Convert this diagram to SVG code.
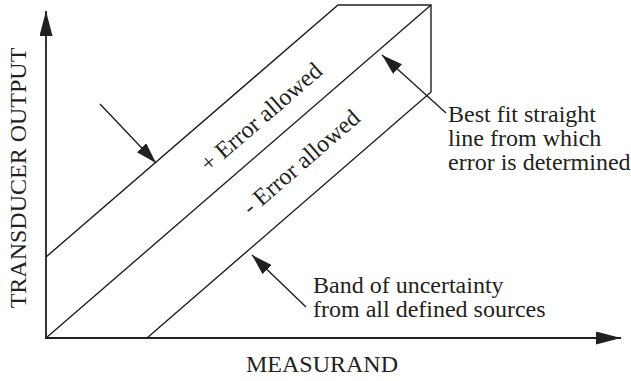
<svg xmlns="http://www.w3.org/2000/svg" width="631" height="381" viewBox="0 0 631 381" font-family="'Liberation Serif', 'DejaVu Serif', serif">
<style>
.t{font-family:'Liberation Serif','DejaVu Serif',serif;font-size:24px;fill:#231f20}
.ln{stroke:#231f20;stroke-width:1.4;fill:none}
.ax{stroke:#231f20;stroke-width:1.8;fill:none}
</style>
<defs>
<marker id="axh" markerUnits="userSpaceOnUse" markerWidth="26" markerHeight="14" refX="25" refY="6.5" orient="auto">
<path d="M0,0 L25,6.5 L0,13 Z" fill="#231f20"/>
</marker>
<marker id="ah" markerUnits="userSpaceOnUse" markerWidth="22" markerHeight="14" refX="21" refY="6.5" orient="auto">
<path d="M0,0 L21,6.5 L0,13 Z" fill="#231f20"/>
</marker>
</defs>
<g id="axes">
<line class="ax" x1="46" y1="338" x2="46" y2="11" marker-end="url(#axh)"/>
<line class="ax" x1="45" y1="338" x2="621" y2="338" marker-end="url(#axh)"/>
<text class="t" transform="translate(26,178) rotate(-90)" text-anchor="middle">TRANSDUCER OUTPUT</text>
<text class="t" x="322" y="372" text-anchor="middle">MEASURAND</text>
</g>
<g id="band">
<polyline class="ln" points="46,257 338,5 431,5 431,92 147,338"/>
<line class="ln" x1="46" y1="338" x2="431" y2="5"/>
</g>
<g id="plus-label">
<text class="t" transform="translate(261,117) rotate(-40.9)" x="0" y="8" text-anchor="middle">+ Error allowed</text>
</g>
<g id="minus-label">
<text class="t" transform="translate(301,162) rotate(-40.9)" x="0" y="8" text-anchor="middle">- Error allowed</text>
</g>
<g id="best-fit-label">
<text class="t" x="448" y="122">Best fit straight</text>
<text class="t" x="448" y="146">line from which</text>
<text class="t" x="448" y="170">error is determined</text>
</g>
<g id="band-label">
<text class="t" x="313" y="293">Band of uncertainty</text>
<text class="t" x="313" y="317">from all defined sources</text>
</g>
<g id="connectors">
<line class="ln" x1="100" y1="104" x2="156" y2="163" marker-end="url(#ah)"/>
<line class="ln" x1="446" y1="113" x2="382" y2="55" marker-end="url(#ah)"/>
<line class="ln" x1="306" y1="307" x2="252" y2="255" marker-end="url(#ah)"/>
</g>
</svg>
